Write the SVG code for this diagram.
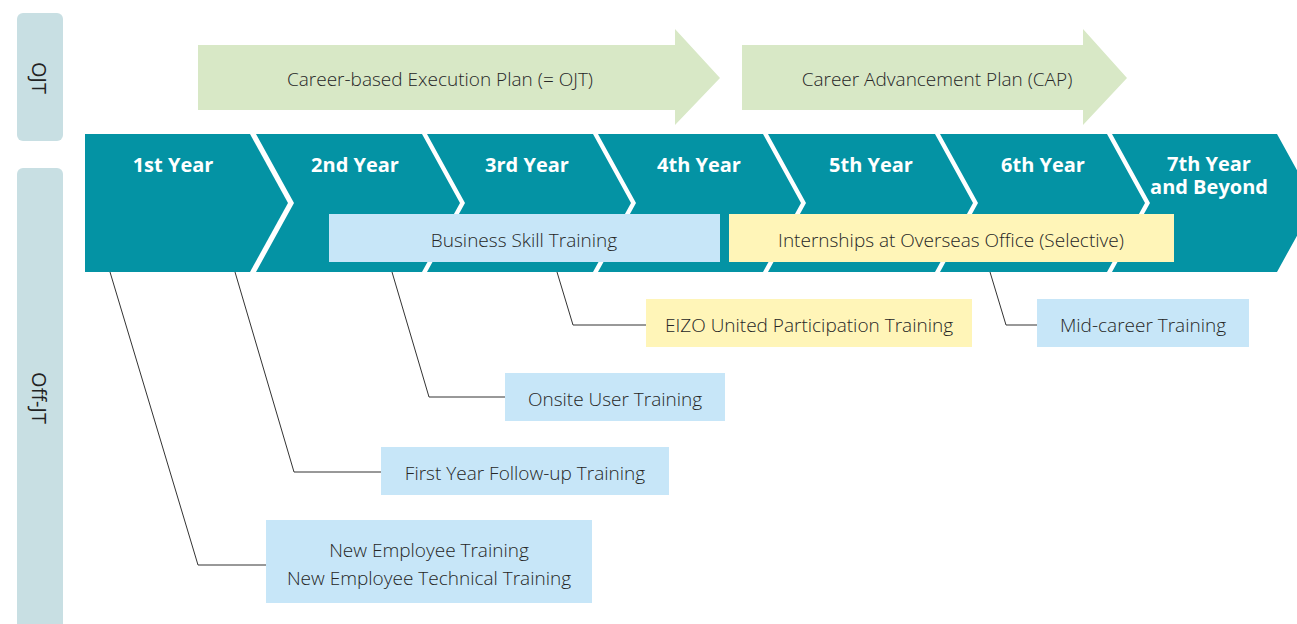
<svg xmlns="http://www.w3.org/2000/svg" width="1297" height="624" viewBox="0 0 1297 624">
<style>
.side{fill:#c8dfe3}
.side-t{font-family:"Open Sans","Liberation Sans",sans-serif;font-size:20px;font-weight:400;fill:#222;text-anchor:middle}
.plan{fill:#d8e8c6}
.seg{fill:#0493a4}
.yr{font-family:"Open Sans","Liberation Sans",sans-serif;font-size:20px;font-weight:700;fill:#fff;text-anchor:middle}
.blue{fill:#c7e6f8}
.yel{fill:#fff5b8}
.t{font-family:"Open Sans","Liberation Sans",sans-serif;font-size:19px;font-weight:300;fill:#262626;text-anchor:middle}
.conn{fill:none;stroke:#333;stroke-width:1}
</style>
<rect width="1297" height="624" fill="#fff"/>
<g id="side-ojt">
<rect class="side" x="17" y="13" width="46" height="128" rx="6"/>
<text class="side-t" transform="translate(32,78) rotate(90)">OJT</text>
</g>
<g id="side-offjt">
<rect class="side" x="17" y="168" width="46" height="470" rx="6"/>
<text class="side-t" transform="translate(32,398) rotate(90)">Off-JT</text>
</g>
<g id="plan-ojt">
<polygon class="plan" points="198,45 675,45 675,29 720,78 675,125 675,110 198,110"/>
<text class="t" x="440" y="86">Career-based Execution Plan (= OJT)</text>
</g>
<g id="plan-cap">
<polygon class="plan" points="742,45 1083,45 1083,29 1127,78 1083,125 1083,110 742,110"/>
<text class="t" x="937" y="86">Career Advancement Plan (CAP)</text>
</g>
<g id="year1">
<polygon class="seg" points="85,134 250,134 288,203 250,272 85,272"/>
<text class="yr" x="173" y="172">1st Year</text>
</g>
<g id="year2">
<polygon class="seg" points="256,134 422,134 460,203 422,272 256,272 294,203"/>
<text class="yr" x="355" y="172">2nd Year</text>
</g>
<g id="year3">
<polygon class="seg" points="427,134 593,134 631,203 593,272 427,272 465,203"/>
<text class="yr" x="527" y="172">3rd Year</text>
</g>
<g id="year4">
<polygon class="seg" points="598,134 763,134 801,203 763,272 598,272 636,203"/>
<text class="yr" x="699" y="172">4th Year</text>
</g>
<g id="year5">
<polygon class="seg" points="768,134 935,134 973,203 935,272 768,272 806,203"/>
<text class="yr" x="871" y="172">5th Year</text>
</g>
<g id="year6">
<polygon class="seg" points="940,134 1107,134 1145,203 1107,272 940,272 978,203"/>
<text class="yr" x="1043" y="172">6th Year</text>
</g>
<g id="year7">
<polygon class="seg" points="1112,134 1277,134 1315,203 1277,272 1112,272 1150,203"/>
<text class="yr" x="1209" y="171">7th Year</text>
<text class="yr" x="1209" y="194">and Beyond</text>
</g>
<g id="connectors">
<polyline class="conn" points="110,272 198,565 266,565"/>
<polyline class="conn" points="235,272 294,472 381,472"/>
<polyline class="conn" points="392,272 429,397 505,397"/>
<polyline class="conn" points="557,272 573,325 646,325"/>
<polyline class="conn" points="990,272 1006,325 1037,325"/>
</g>
<g id="business-skill">
<rect class="blue" x="329" y="214" width="391" height="48"/>
<text class="t" x="524" y="247">Business Skill Training</text>
</g>
<g id="internships">
<rect class="yel" x="729" y="214" width="445" height="48"/>
<text class="t" x="951" y="247">Internships at Overseas Office (Selective)</text>
</g>
<g id="eizo-united">
<rect class="yel" x="646" y="299" width="326" height="48"/>
<text class="t" x="809" y="332">EIZO United Participation Training</text>
</g>
<g id="mid-career">
<rect class="blue" x="1037" y="299" width="212" height="48"/>
<text class="t" x="1143" y="332">Mid-career Training</text>
</g>
<g id="onsite-user">
<rect class="blue" x="505" y="373" width="220" height="48"/>
<text class="t" x="615" y="406">Onsite User Training</text>
</g>
<g id="first-year">
<rect class="blue" x="381" y="447" width="288" height="48"/>
<text class="t" x="525" y="480">First Year Follow-up Training</text>
</g>
<g id="new-employee">
<rect class="blue" x="266" y="520" width="326" height="83"/>
<text class="t" x="429" y="557">New Employee Training</text>
<text class="t" x="429" y="585">New Employee Technical Training</text>
</g>
</svg>
